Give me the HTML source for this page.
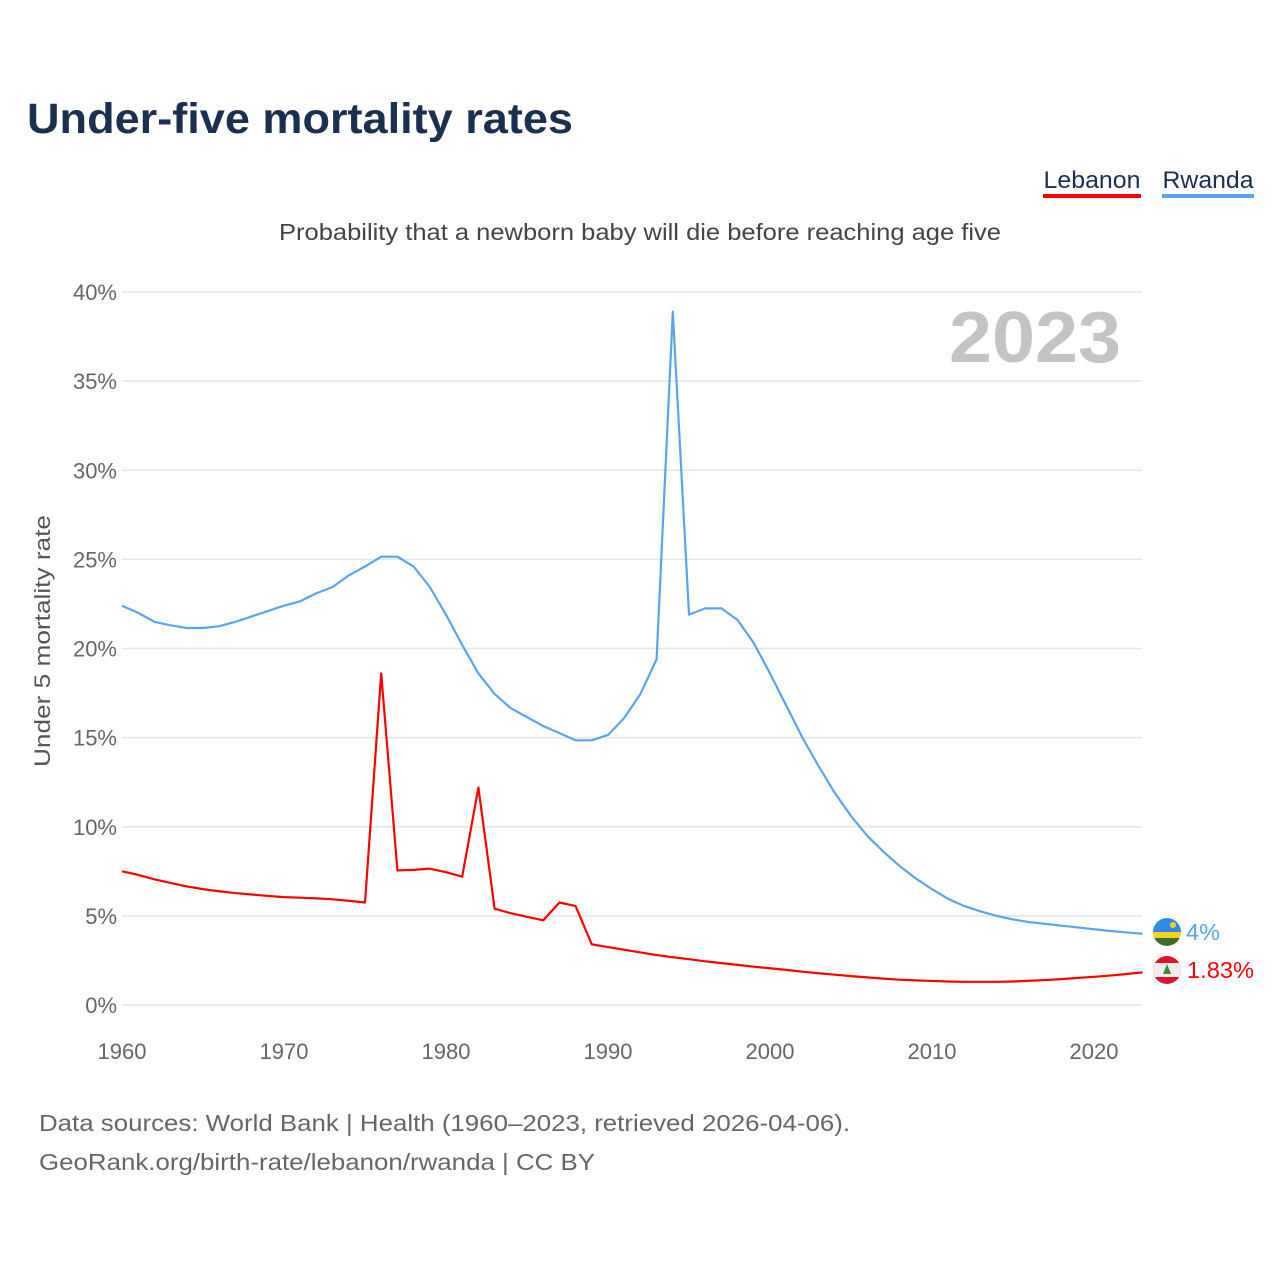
<!DOCTYPE html>
<html><head><meta charset="utf-8"><style>
body{margin:0;background:#fff;font-family:"Liberation Sans",sans-serif}
svg text{font-family:"Liberation Sans",sans-serif}
</style></head><body>
<svg id="chart" width="1280" height="1280" viewBox="0 0 1280 1280" xmlns="http://www.w3.org/2000/svg">
<rect width="1280" height="1280" fill="#fff"/>
<text x="27" y="133" font-size="43" font-weight="bold" fill="#1b2f4f" textLength="546" lengthAdjust="spacingAndGlyphs">Under-five mortality rates</text>
<g><text x="1092" y="188" font-size="24" fill="#1b2f4f" text-anchor="middle" textLength="97" lengthAdjust="spacingAndGlyphs">Lebanon</text><rect x="1043" y="194" width="98" height="4" fill="#ff0000"/></g>
<g><text x="1208" y="188" font-size="24" fill="#1b2f4f" text-anchor="middle" textLength="91" lengthAdjust="spacingAndGlyphs">Rwanda</text><rect x="1162" y="194" width="92" height="4" fill="#5ba4ec"/></g>
<text x="279" y="240" font-size="23" fill="#444" textLength="722" lengthAdjust="spacingAndGlyphs">Probability that a newborn baby will die before reaching age five</text>
<text x="1121" y="362" font-size="72" font-weight="bold" fill="#c4c4c4" text-anchor="end" textLength="172" lengthAdjust="spacingAndGlyphs">2023</text>
<text transform="translate(50,641) rotate(-90)" font-size="22" fill="#555" text-anchor="middle" textLength="252" lengthAdjust="spacingAndGlyphs">Under 5 mortality rate</text>
<g id="grid"></g><g id="lines"></g><g id="labels"></g>
<g>
<clipPath id="c1"><circle cx="1167" cy="932" r="14"/></clipPath>
<g clip-path="url(#c1)"><rect x="1153" y="918" width="28" height="14" fill="#2d8ae8"/><rect x="1153" y="932" width="28" height="6" fill="#f5d31c"/><rect x="1153" y="938" width="28" height="8" fill="#3f6b2a"/><circle cx="1173" cy="925" r="3" fill="#f5d31c"/></g></g>
<g>
<clipPath id="c2"><circle cx="1167" cy="970" r="14"/></clipPath>
<g clip-path="url(#c2)"><rect x="1153" y="956" width="28" height="28" fill="#e0112b"/><rect x="1153" y="963" width="28" height="14" fill="#eee"/><path d="M1167 964 L1163 974 L1171 974Z" fill="#3a8a3a"/></g></g>
<text x="1186" y="940" font-size="23" fill="#5ba4ec" textLength="34" lengthAdjust="spacingAndGlyphs">4%</text>
<text x="1187" y="978" font-size="23" fill="#ff0000" textLength="67" lengthAdjust="spacingAndGlyphs">1.83%</text>
<text x="39" y="1131" font-size="23" fill="#666" textLength="811" lengthAdjust="spacingAndGlyphs">Data sources: World Bank | Health (1960–2023, retrieved 2026-04-06).</text>
<text x="39" y="1170" font-size="23" fill="#666" textLength="556" lengthAdjust="spacingAndGlyphs">GeoRank.org/birth-rate/lebanon/rwanda | CC BY</text>
</svg>
<script>
const years=[];for(let y=1960;y<=2023;y++)years.push(y);
const rwanda=[22.4,22.0,21.5,21.3,21.15,21.15,21.25,21.5,21.8,22.1,22.4,22.65,23.1,23.45,24.1,24.6,25.15,25.15,24.6,23.45,21.9,20.2,18.6,17.45,16.65,16.15,15.65,15.25,14.85,14.85,15.15,16.1,17.45,19.4,38.9,21.9,22.25,22.25,21.6,20.3,18.6,16.8,15.0,13.4,11.9,10.6,9.5,8.6,7.8,7.1,6.5,5.95,5.55,5.25,5.0,4.8,4.65,4.55,4.45,4.35,4.25,4.15,4.07,4.0];
const lebanon=[7.5,7.3,7.05,6.85,6.65,6.5,6.38,6.28,6.2,6.12,6.05,6.02,5.98,5.93,5.85,5.75,18.6,7.55,7.58,7.65,7.45,7.2,12.2,5.4,5.15,4.95,4.75,5.75,5.55,3.4,3.25,3.1,2.95,2.8,2.68,2.57,2.45,2.35,2.25,2.15,2.06,1.97,1.87,1.78,1.7,1.62,1.55,1.48,1.42,1.38,1.35,1.32,1.3,1.3,1.3,1.32,1.36,1.4,1.45,1.52,1.58,1.65,1.74,1.83];
const yTicks=[0,5,10,15,20,25,30,35,40];
const xTicks=[1960,1970,1980,1990,2000,2010,2020];
const NS="http://www.w3.org/2000/svg";
const X=y=>122+(y-1960)*16.2;
const Y=v=>1005-v*17.825;
const grid=document.getElementById('grid'),labels=document.getElementById('labels'),lines=document.getElementById('lines');
yTicks.forEach(t=>{
 const l=document.createElementNS(NS,'line');
 
 
 l.setAttribute('x1',122);l.setAttribute('x2',1142);l.setAttribute('y1',Y(t));l.setAttribute('y2',Y(t));
 l.setAttribute('stroke','#e6e6e6');l.setAttribute('stroke-width','1.5');grid.appendChild(l);
 const tx=document.createElementNS(NS,'text');
 
 
 tx.setAttribute('x',117);tx.setAttribute('y',Y(t)+8);tx.setAttribute('text-anchor','end');
 tx.setAttribute('font-size','22');tx.setAttribute('fill','#666');tx.textContent=t+'%';labels.appendChild(tx);
});
xTicks.forEach(t=>{
 const tx=document.createElementNS(NS,'text');
 
 
 tx.setAttribute('x',X(t));tx.setAttribute('y',1059);tx.setAttribute('text-anchor','middle');
 tx.setAttribute('font-size','22');tx.setAttribute('fill','#666');tx.textContent=t;labels.appendChild(tx);
});
function draw(vals,color,name){
 const p=document.createElementNS(NS,'polyline');
 
 
 p.setAttribute('points',vals.map((v,i)=>X(years[i])+','+Y(v)).join(' '));
 p.setAttribute('fill','none');p.setAttribute('stroke',color);p.setAttribute('stroke-width','2.2');
 p.setAttribute('stroke-linejoin','round');lines.appendChild(p);
}
draw(rwanda,'#5ba4ec','line-rwanda');
draw(lebanon,'#ff0000','line-lebanon');
</script>
</body></html>
